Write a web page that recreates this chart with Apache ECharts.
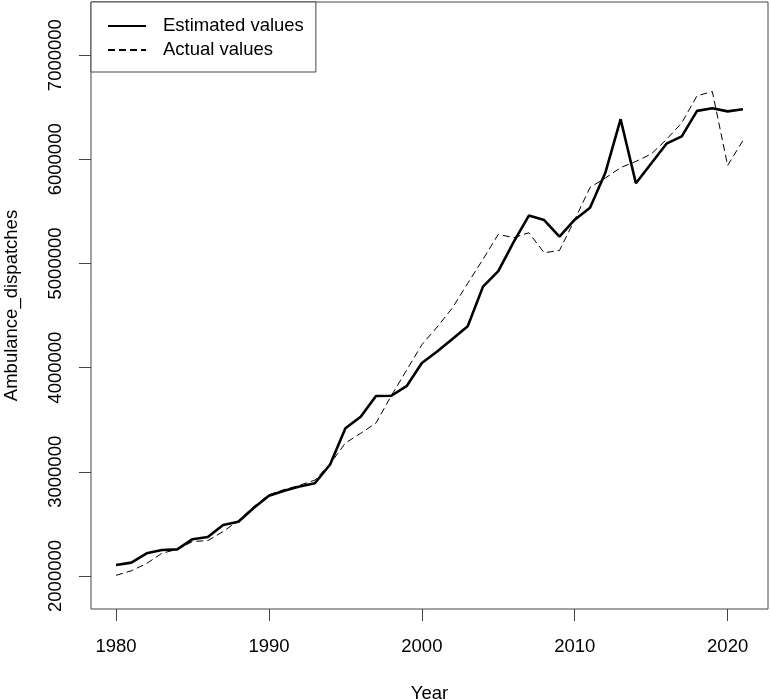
<!DOCTYPE html>
<html>
<head>
<meta charset="utf-8">
<script src="https://cdn.jsdelivr.net/npm/echarts@6/dist/echarts.min.js"></script>
<style>
  html, body { margin: 0; padding: 0; background: #fff; }
  #chart { width: 770px; height: 699px; }
</style>
</head>
<body>
<div id="chart"></div>
<script>
// 数据
const years = [];
for (let y = 1980; y <= 2021; y++) years.push(y);

const estimatedValues = [
    2106000, 2128000, 2218000, 2250000, 2255000, 2353000, 2374000, 2490000, 2520000, 2652000,
    2770000, 2818000, 2858000, 2890000, 3070000, 3418000, 3528000, 3728000, 3730000, 3822000,
    4045000, 4155000, 4276000, 4397000, 4778000, 4926000, 5205000, 5460000, 5417000, 5257000,
    5420000, 5535000, 5870000, 6385000, 5770000, 5960000, 6150000, 6220000, 6465000, 6490000,
    6460000, 6480000
];

const actualValues = [
    2006000, 2050000, 2120000, 2218000, 2256000, 2330000, 2340000, 2426000, 2532000, 2666000,
    2780000, 2830000, 2870000, 2920000, 3077000, 3276000, 3370000, 3468000, 3730000, 3975000,
    4220000, 4390000, 4574000, 4810000, 5040000, 5280000, 5247000, 5295000, 5103000, 5125000,
    5420000, 5730000, 5820000, 5920000, 5980000, 6050000, 6190000, 6350000, 6610000, 6650000,
    5940000, 6180000
];

const xTicks = [1980, 1990, 2000, 2010, 2020];
const yTicks = [2000000, 3000000, 4000000, 5000000, 6000000, 7000000];

const FONT = '"Liberation Sans", Arial, Helvetica, sans-serif';
const AXIS_COLOR = '#444';

const chart = echarts.init(document.getElementById('chart'));

chart.setOption({
    animation: false,
    textStyle: { fontFamily: FONT, color: '#000' },
    grid: {
        left: 91, right: 2, top: 2, bottom: 90,
        containLabel: false,
        outerBoundsMode: 'none',
        show: true, borderColor: AXIS_COLOR, borderWidth: 1, backgroundColor: 'transparent'
    },
    legend: {
        left: 91, top: 2,
        orient: 'vertical',
        padding: [14, 12, 12, 16],
        itemGap: 4,
        itemWidth: 38,
        itemHeight: 14,
        backgroundColor: '#fff',
        borderColor: AXIS_COLOR,
        borderWidth: 1,
        borderRadius: 0,
        itemStyle: { opacity: 0 },
        textStyle: { fontSize: 18.5, lineHeight: 20, fontFamily: FONT, color: '#000', padding: [0, 0, 0, 12] },
        data: ['Estimated values', 'Actual values']
    },
    xAxis: {
        type: 'value',
        min: 1978.36, max: 2022.64,
        name: 'Year',
        nameLocation: 'middle',
        nameGap: 75,
        nameTextStyle: { fontSize: 18.5, color: '#000', fontFamily: FONT },
        splitLine: { show: false },
        axisLine: { show: false },
        axisTick: { show: true, length: 12, inside: false, customValues: xTicks, lineStyle: { color: AXIS_COLOR } },
        axisLabel: { fontSize: 18.5, color: '#000', margin: 28, customValues: xTicks, formatter: v => String(v) }
    },
    yAxis: {
        type: 'value',
        min: 1683000, max: 7510000,
        name: 'Ambulance_dispatches',
        nameLocation: 'middle',
        nameGap: 70,
        nameRotate: 90,
        nameTextStyle: { fontSize: 18.5, color: '#000', fontFamily: FONT },
        splitLine: { show: false },
        axisLine: { show: false },
        axisTick: { show: true, length: 12, inside: false, customValues: yTicks, lineStyle: { color: AXIS_COLOR } },
        axisLabel: { fontSize: 18.5, color: '#000', margin: 26, rotate: 90, customValues: yTicks, formatter: v => String(v) }
    },
    series: [
        {
            name: 'Estimated values',
            type: 'line',
            symbol: 'none',
            z: 3,
            data: years.map((y, i) => [y, estimatedValues[i]]),
            lineStyle: { color: '#000', width: 2.6, type: 'solid' },
            itemStyle: { color: '#000' }
        },
        {
            name: 'Actual values',
            type: 'line',
            symbol: 'none',
            z: 2,
            data: years.map((y, i) => [y, actualValues[i]]),
            lineStyle: { color: '#000', width: 1, type: [7, 4] },
            itemStyle: { color: '#000' }
        }
    ]
});
</script>
</body>
</html>
